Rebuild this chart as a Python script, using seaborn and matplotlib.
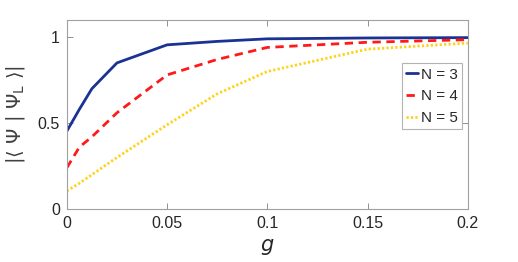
import pandas as pd
import matplotlib
matplotlib.use("Agg")
import matplotlib.pyplot as plt
import seaborn as sns

# coupling values and overlaps
g_vals = [0, 0.00625, 0.0125, 0.025, 0.05, 0.075, 0.1, 0.15, 0.2]
n3 = [0.453, 0.58, 0.70, 0.85, 0.955, 0.975, 0.99, 0.995, 0.997]
n4 = [0.24, 0.36, 0.42, 0.56, 0.78, 0.87, 0.94, 0.97, 0.985]
n5 = [0.105, 0.15, 0.20, 0.30, 0.49, 0.67, 0.80, 0.93, 0.965]
labels = ["N = 3", "N = 4", "N = 5"]

sns.set_theme(style="white")
plt.rcParams["font.family"] = ["Liberation Sans", "DejaVu Sans"]
plt.rcParams["mathtext.fontset"] = "dejavusans"

df = pd.concat([
    pd.DataFrame({"g": g_vals, "val": vals, "N": lab})
    for vals, lab in zip([n3, n4, n5], labels)
])

fig = plt.figure(figsize=(5.18, 2.62), dpi=100)
ax = fig.add_axes([0.129, 0.202, 0.774, 0.722])

palette = {"N = 3": "#1a3393", "N = 4": "#ff1a1a", "N = 5": "#ffd21a"}
dashes = {"N = 3": "", "N = 4": (3, 2), "N = 5": (0.8, 0.8)}
sns.lineplot(data=df, x="g", y="val", hue="N", style="N", palette=palette,
             dashes=dashes, linewidth=2.0, ax=ax)

ax.set_xlim(0, 0.2)
ax.set_ylim(0, 1.1)
ax.set_xticks([0, 0.05, 0.1, 0.15, 0.2])
ax.set_xticklabels(["0", "0.05", "0.1", "0.15", "0.2"])
ax.set_yticks([0, 0.5, 1])
ax.set_yticklabels(["0", "0.5", "1"])
ax.tick_params(direction="in", length=4, width=0.6, color="#808080",
               labelsize=11.5, labelcolor="#262626", top=True, right=True,
               bottom=True, left=True, pad=5)
for sp in ax.spines.values():
    sp.set_color("#a0a0a0")
    sp.set_linewidth(0.8)

ax.set_xlabel("$g$", fontsize=15, color="#262626", labelpad=4)
ax.set_ylabel(r"$|\langle\ \Psi\ |\ \Psi_{\mathrm{L}}\ \rangle|$", fontsize=14,
              color="#404040", labelpad=8)

leg = ax.legend(loc="upper left", bbox_to_anchor=(0.835, 0.772), fontsize=11,
                handlelength=0.8, handletextpad=0.15, borderpad=0.3,
                labelspacing=0.5, fancybox=False, frameon=True,
                borderaxespad=0)
leg.get_frame().set_edgecolor("#a0a0a0")
leg.get_frame().set_linewidth(0.8)
for t in leg.get_texts():
    t.set_color("#262626")

fig.savefig("out.png", dpi=100)
